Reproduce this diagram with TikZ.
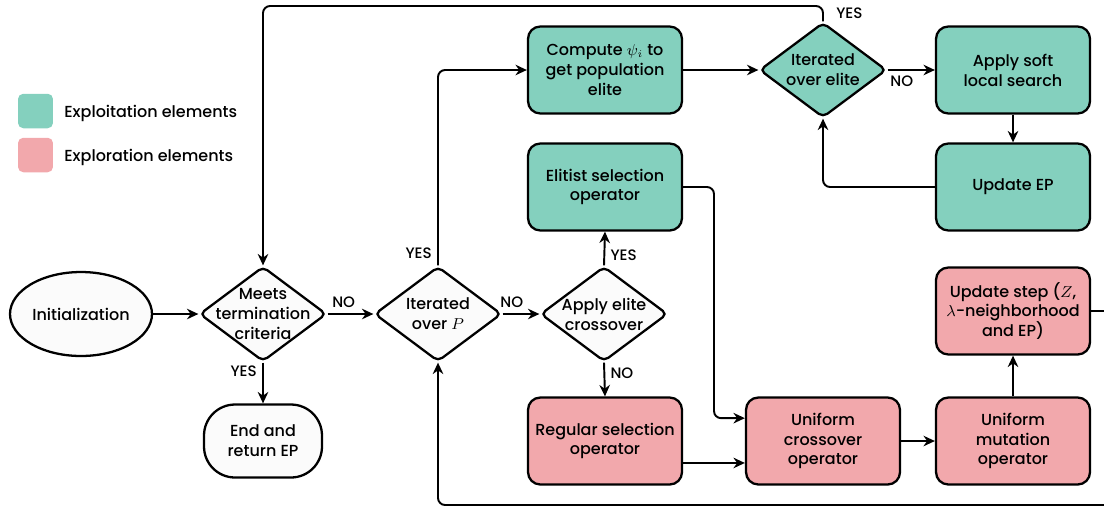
\documentclass[tikz,border=0pt]{standalone}
\usepackage{fontspec}
\setmainfont{Poppins}[UprightFont={* Medium}]
\usetikzlibrary{shapes.geometric,arrows.meta}
\definecolor{exploit}{HTML}{84D0BE}
\definecolor{explore}{HTML}{F2A8AC}
\definecolor{neutral}{HTML}{FBFBFB}
\begin{document}
\begin{tikzpicture}[x=0.02cm,y=-0.02cm,
  txt/.style={font=\fontsize{9.1}{11.3}\selectfont, align=center, inner sep=0pt},
  base/.style={txt, draw=black, line width=1.3pt},
  box/.style={base, rounded corners=7pt, minimum width=3.08cm, minimum height=1.74cm},
  greenbox/.style={box, fill=exploit},
  pinkbox/.style={box, fill=explore},
  dia/.style={base, diamond, fill=neutral, minimum width=2.54cm, minimum height=1.9cm, rounded corners=3pt},
  flow/.style={line width=1.1pt, rounded corners=4pt, -{Stealth[length=6.5pt,width=6pt]}},
  lbl/.style={font=\fontsize{8.6}{10}\selectfont, inner sep=3pt},
  legsq/.style={rounded corners=3pt, minimum width=0.7cm, minimum height=0.69cm, inner sep=0pt},
  legtxt/.style={txt, anchor=west}
]
\useasboundingbox (0,0) rectangle (1104,511);

% legend
\node[legsq, fill=exploit] (lg1) at (35.5,111) {};
\node[legtxt] (lt1) at (64,113) {Exploitation elements};
\node[legsq, fill=explore] (lg2) at (35.5,155) {};
\node[legtxt] (lt2) at (64,157) {Exploration elements};

% start / end
\node[base, ellipse, fill=neutral, minimum width=2.84cm, minimum height=1.68cm] (init) at (81,314) {Initialization};
\node[base, fill=neutral, rounded corners=0.62cm, minimum width=2.36cm, minimum height=1.46cm] (endn) at (263,441) {End and\\return EP};

% decisions
\node[dia] (meets) at (263,314) {};
\node[txt] (meetst) at (263,314) {Meets\\termination\\criteria};
\node[dia] (iterP) at (438,314) {};
\node[txt] (iterPt) at (438,314) {Iterated\\over $P$};
\node[dia] (elite) at (604,314) {};
\node[txt] (elitet) at (604,314) {Apply elite\\crossover};
\node[dia, fill=exploit] (iterE) at (823,70) {};
\node[txt] (iterEt) at (823,70) {Iterated\\over elite};

% exploitation steps
\node[greenbox] (compute) at (605,70) {Compute $\psi_i$ to\\get population\\elite};
\node[greenbox] (elitist) at (605,187) {Elitist selection\\operator};
\node[greenbox] (soft) at (1013,70) {Apply soft\\local search};
\node[greenbox] (upEP) at (1013,187) {Update EP};

% exploration steps
\node[pinkbox] (regular) at (605,441) {Regular selection\\operator};
\node[pinkbox] (ucross) at (823,441) {Uniform\\crossover\\operator};
\node[pinkbox] (umut) at (1013,441) {Uniform\\mutation\\operator};
\node[pinkbox] (ustep) at (1013,311) {Update step ($Z$,\\$\lambda$-neighborhood\\and EP)};

% routing points
\coordinate (topleft) at (263,6);
\coordinate (elbend) at (714,187);
\coordinate (rtop) at (1120,311);
\coordinate (rbot) at (1120,505);

% connectors
\draw[flow] (init) -- (meets);
\draw[flow] (meets) -- node[lbl, above, pos=0.35] {NO} (iterP);
\draw[flow] (meets.south) -- node[lbl, left, pos=0.2] {YES} (endn.north);
\draw[flow] (iterP) -- node[lbl, above, pos=0.25] {NO} (elite);
\draw[flow] (iterP.north) |- node[lbl, left, pos=0.03] {YES} (compute.west);
\draw[flow] (elite.north) -- node[lbl, right, pos=0.3] {YES} (elitist.south);
\draw[flow] (elite.south) -- node[lbl, right, pos=0.3] {NO} (regular.north);
\draw[flow] (compute.east) -- (iterE.west);
\draw[flow] (iterE.east) -- node[lbl, below, pos=0.3] {NO} (soft.west);
\draw[flow] (iterE.north) |- node[lbl, right, pos=0.25, xshift=4pt] {YES} (topleft) -- (meets.north);
\draw[flow] (soft.south) -- (upEP.north);
\draw[flow] (upEP.west) -| (iterE.south);
\draw[flow] (elitist.east) -- (elbend) |- ([yshift=13pt]ucross.west);
\draw[flow] ([yshift=-12.5pt]regular.east) -- ([yshift=-12.5pt]ucross.west);
\draw[flow] (ucross) -- (umut);
\draw[flow] (umut.north) -- (ustep.south);
\draw[flow] (ustep.east) -- (rtop) -- (rbot) -| (iterP.south);
\end{tikzpicture}
\end{document}
